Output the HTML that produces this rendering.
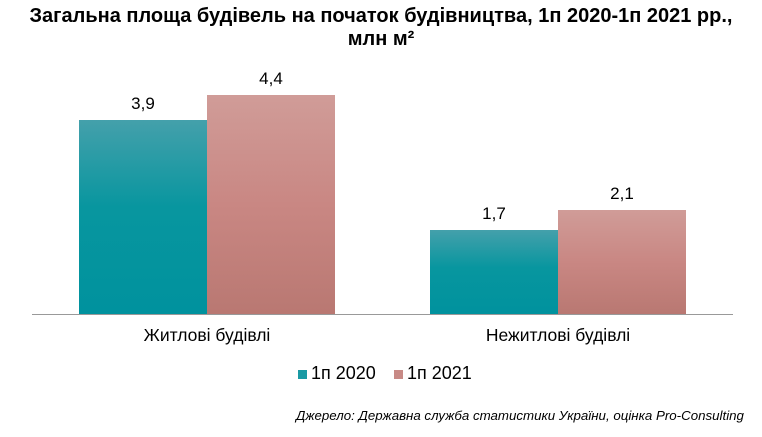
<!DOCTYPE html>
<html><head><meta charset="utf-8"><style>
body{margin:0;width:762px;height:437px;background:#fff;font-family:"Liberation Sans",sans-serif;position:relative;overflow:hidden}
.t{position:absolute;left:0;width:762px;text-align:center;font-weight:bold;font-size:20px;color:#000;white-space:nowrap}
.b{position:absolute;width:128px}
.g1{background:linear-gradient(#44a0ab,#08969f 45%,#00929e)}
.g2{background:linear-gradient(#d09c98,#c98783 50%,#b97872)}
.v{position:absolute;width:128px;text-align:center;font-size:17px}
.c{position:absolute;font-size:17.5px;text-align:center;width:300px}
</style></head><body>
<div class="t" style="top:5px">Загальна площа будівель на початок будівництва, 1п 2020-1п 2021 рр.,</div>
<div class="t" style="top:28px">млн м²</div>
<div class="b g1" style="left:79px;top:120px;height:194px"></div>
<div class="b g2" style="left:207px;top:95px;height:219px"></div>
<div class="b g1" style="left:430px;top:230px;height:84px"></div>
<div class="b g2" style="left:558px;top:210px;height:104px"></div>
<div class="v" style="left:79px;top:94px">3,9</div>
<div class="v" style="left:207px;top:69px">4,4</div>
<div class="v" style="left:430px;top:204px">1,7</div>
<div class="v" style="left:558px;top:184px">2,1</div>
<div style="position:absolute;left:32px;top:314px;width:701px;height:1px;background:#999"></div>
<div class="c" style="left:57px;top:325px">Житлові будівлі</div>
<div class="c" style="left:408px;top:325px">Нежитлові будівлі</div>
<div style="position:absolute;left:298px;top:370px;width:9px;height:9px;background:#1a9aa4"></div>
<div style="position:absolute;left:311px;top:363px;font-size:18px">1п 2020</div>
<div style="position:absolute;left:394px;top:370px;width:9px;height:9px;background:#c88a86"></div>
<div style="position:absolute;left:407px;top:363px;font-size:18px">1п 2021</div>
<div style="position:absolute;left:296px;top:408px;font-size:13.3px;font-style:italic;white-space:nowrap">Джерело: Державна служба статистики України, оцінка Pro-Consulting</div>
</body></html>
